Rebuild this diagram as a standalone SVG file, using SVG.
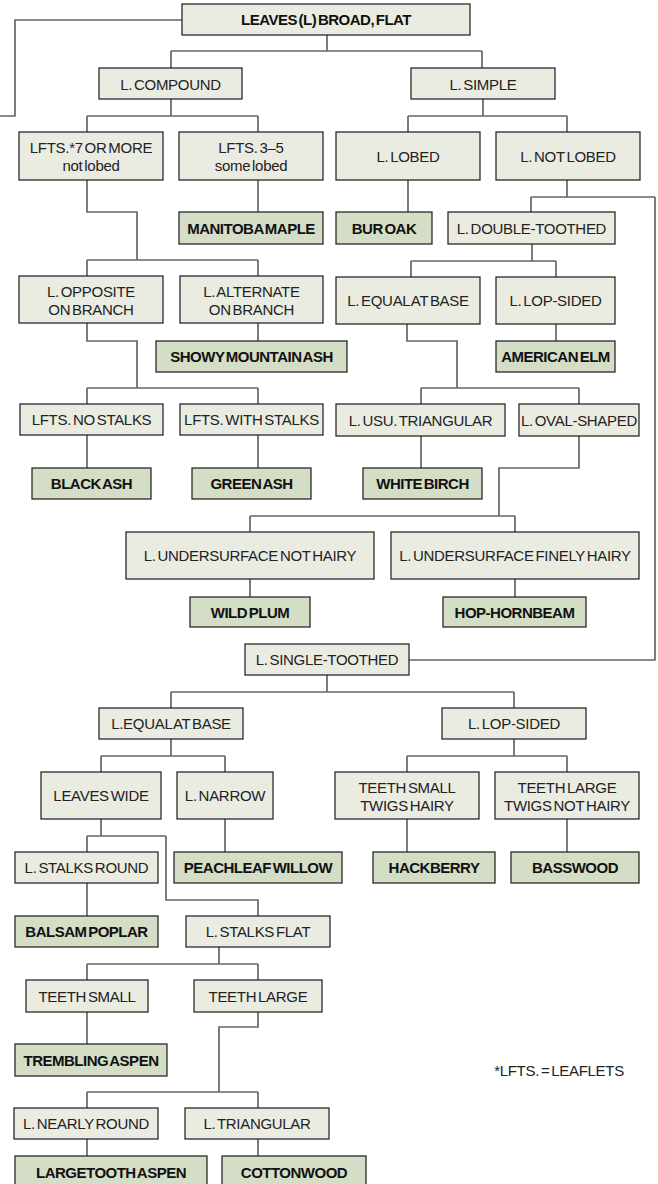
<svg xmlns="http://www.w3.org/2000/svg" width="658" height="1184" viewBox="0 0 658 1184">
<style>
.c{fill:none;stroke:#666;stroke-width:1.7}
.n rect{fill:#eaece2;stroke:#2a2a2a;stroke-width:1.3}
.s rect{fill:#d4ddc6;stroke:#2a2a2a;stroke-width:1.3}
text{font-family:"Liberation Sans",Arial,sans-serif;font-size:15px;fill:#222;text-anchor:middle;letter-spacing:-0.3px;word-spacing:-2px}
.s text,.b{font-weight:700;letter-spacing:-0.5px;fill:#111}
</style>
<rect width="658" height="1184" fill="#fff"/>
<g id="connectors" class="c">
<path d="M182,20H15V116H0"/>
<path d="M327,35V51M171,51H482M171,51V68M482,51V68"/>
<path d="M171,99V116M87,116H258M87,116V132M258,116V132"/>
<path d="M87,180V212H137V260M87,260H258M87,260V276M258,260V276"/>
<path d="M258,180V212"/>
<path d="M483,99V116M408,116H567M408,116V132M567,116V132"/>
<path d="M408,180V212"/>
<path d="M567,180V197M531,197H655M531,197V212M655,197V660H409"/>
<path d="M532,244V261M411,261H556M411,261V277M556,261V277"/>
<path d="M556,324V341"/>
<path d="M407,324V341H457V388M421,388H579M421,388V404M579,388V404"/>
<path d="M87,323V341H137V388M87,388H258M87,388V404M258,388V404"/>
<path d="M258,323V341"/>
<path d="M87,435V468M258,435V468"/>
<path d="M421,436V468"/>
<path d="M579,436V468H499V516M250,516H515M250,516V532M515,516V532"/>
<path d="M250,579V597M515,579V597"/>
<path d="M327,675V692M171,692H514M171,692V708M514,692V708"/>
<path d="M171,739V756M101,756H225M101,756V772M225,756V772"/>
<path d="M514,739V756M407,756H567M407,756V772M567,756V772"/>
<path d="M407,819V852M567,819V852M225,819V852"/>
<path d="M101,819V836M87,836H166M87,836V852M166,836V900H258V916"/>
<path d="M87,883V916"/>
<path d="M219,947V964M87,964H258M87,964V980M258,964V980"/>
<path d="M87,1012V1044"/>
<path d="M258,1012V1027H219V1092M87,1092H258M87,1092V1108M258,1092V1108"/>
<path d="M87,1139V1156M258,1139V1156"/>
</g>
<g id="root" class="n"><rect x="182" y="4" width="288" height="31"/><text class="b" x="326" y="25">LEAVES (L) BROAD, FLAT</text></g>
<g id="compound" class="n"><rect x="99" y="68" width="143" height="31"/><text x="170.5" y="89.5">L. COMPOUND</text></g>
<g id="simple" class="n"><rect x="411" y="68" width="144" height="31"/><text x="483" y="89.5">L. SIMPLE</text></g>
<g id="lfts7" class="n"><rect x="19" y="132" width="144" height="48"/><text x="91" y="153">LFTS.*7 OR MORE</text><text x="91" y="171">not lobed</text></g>
<g id="lfts35" class="n"><rect x="179" y="132" width="144" height="48"/><text x="251" y="153">LFTS. 3–5</text><text x="251" y="171">some lobed</text></g>
<g id="lobed" class="n"><rect x="336" y="132" width="144" height="48"/><text x="408" y="161.5">L. LOBED</text></g>
<g id="notlobed" class="n"><rect x="496" y="132" width="144" height="48"/><text x="568" y="161.5">L. NOT LOBED</text></g>
<g id="manitoba" class="s"><rect x="179" y="212" width="144" height="32"/><text x="251" y="233.5">MANITOBA MAPLE</text></g>
<g id="buroak" class="s"><rect x="336" y="212" width="96" height="32"/><text x="384" y="233.5">BUR OAK</text></g>
<g id="double" class="n"><rect x="448" y="212" width="167" height="32"/><text x="531.5" y="233.5">L. DOUBLE-TOOTHED</text></g>
<g id="opposite" class="n"><rect x="19" y="276" width="144" height="47"/><text x="91" y="297">L. OPPOSITE</text><text x="91" y="315">ON BRANCH</text></g>
<g id="alternate" class="n"><rect x="180" y="276" width="143" height="47"/><text x="251.5" y="297">L. ALTERNATE</text><text x="251.5" y="315">ON BRANCH</text></g>
<g id="showy" class="s"><rect x="156" y="341" width="191" height="31"/><text x="251.5" y="362">SHOWY MOUNTAIN ASH</text></g>
<g id="equal1" class="n"><rect x="336" y="277" width="144" height="47"/><text x="408" y="306">L. EQUAL AT BASE</text></g>
<g id="lopsided1" class="n"><rect x="496" y="277" width="119" height="47"/><text x="555.5" y="306">L. LOP-SIDED</text></g>
<g id="amelm" class="s"><rect x="496" y="341" width="119" height="31"/><text x="555.5" y="362">AMERICAN ELM</text></g>
<g id="nostalks" class="n"><rect x="20" y="404" width="143" height="31"/><text x="91.5" y="425">LFTS. NO STALKS</text></g>
<g id="withstalks" class="n"><rect x="180" y="404" width="143" height="31"/><text x="251.5" y="425">LFTS. WITH STALKS</text></g>
<g id="blackash" class="s"><rect x="32" y="468" width="119" height="31"/><text x="91.5" y="489">BLACK ASH</text></g>
<g id="greenash" class="s"><rect x="192" y="468" width="119" height="31"/><text x="251.5" y="489">GREEN ASH</text></g>
<g id="usutri" class="n"><rect x="336" y="404" width="169" height="32"/><text x="420.5" y="425.5">L. USU. TRIANGULAR</text></g>
<g id="oval" class="n"><rect x="519" y="404" width="120" height="32"/><text x="579" y="425.5">L. OVAL-SHAPED</text></g>
<g id="whitebirch" class="s"><rect x="363" y="468" width="119" height="31"/><text x="422.5" y="489">WHITE BIRCH</text></g>
<g id="undernot" class="n"><rect x="126" y="532" width="248" height="47"/><text x="250" y="561">L. UNDERSURFACE NOT HAIRY</text></g>
<g id="underfine" class="n"><rect x="391" y="532" width="248" height="47"/><text x="515" y="561">L. UNDERSURFACE FINELY HAIRY</text></g>
<g id="wildplum" class="s"><rect x="190" y="597" width="120" height="30"/><text x="250" y="617.5">WILD PLUM</text></g>
<g id="hop" class="s"><rect x="443" y="597" width="143" height="30"/><text x="514.5" y="617.5">HOP-HORNBEAM</text></g>
<g id="single" class="n"><rect x="245" y="644" width="164" height="31"/><text x="327" y="665">L. SINGLE-TOOTHED</text></g>
<g id="equal2" class="n"><rect x="99" y="708" width="144" height="31"/><text x="171" y="729">L.EQUAL AT BASE</text></g>
<g id="lopsided2" class="n"><rect x="442" y="708" width="144" height="31"/><text x="514" y="729">L. LOP-SIDED</text></g>
<g id="leaveswide" class="n"><rect x="41" y="772" width="120" height="47"/><text x="101" y="801">LEAVES WIDE</text></g>
<g id="narrow" class="n"><rect x="177" y="772" width="96" height="47"/><text x="225" y="801">L. NARROW</text></g>
<g id="teethsmalltwigs" class="n"><rect x="335" y="772" width="144" height="47"/><text x="407" y="793">TEETH SMALL</text><text x="407" y="811">TWIGS HAIRY</text></g>
<g id="teethlargetwigs" class="n"><rect x="495" y="772" width="144" height="47"/><text x="567" y="793">TEETH LARGE</text><text x="567" y="811">TWIGS NOT HAIRY</text></g>
<g id="hackberry" class="s"><rect x="373" y="852" width="122" height="31"/><text x="434" y="873">HACKBERRY</text></g>
<g id="basswood" class="s"><rect x="511" y="852" width="128" height="31"/><text x="575" y="873">BASSWOOD</text></g>
<g id="peachleaf" class="s"><rect x="174" y="852" width="168" height="31"/><text x="258" y="873">PEACHLEAF WILLOW</text></g>
<g id="stalksround" class="n"><rect x="15" y="852" width="143" height="31"/><text x="86.5" y="873">L. STALKS ROUND</text></g>
<g id="balsam" class="s"><rect x="15" y="916" width="143" height="31"/><text x="86.5" y="937">BALSAM POPLAR</text></g>
<g id="stalksflat" class="n"><rect x="186" y="916" width="144" height="31"/><text x="258" y="937">L. STALKS FLAT</text></g>
<g id="teethsmall" class="n"><rect x="26" y="980" width="122" height="32"/><text x="87" y="1001.5">TEETH SMALL</text></g>
<g id="teethlarge" class="n"><rect x="194" y="980" width="128" height="32"/><text x="258" y="1001.5">TEETH LARGE</text></g>
<g id="trembling" class="s"><rect x="15" y="1044" width="152" height="32"/><text x="91" y="1065.5">TREMBLING ASPEN</text></g>
<g id="nearlyround" class="n"><rect x="14" y="1108" width="144" height="31"/><text x="86" y="1129">L. NEARLY ROUND</text></g>
<g id="triangular" class="n"><rect x="185" y="1108" width="144" height="31"/><text x="257" y="1129">L. TRIANGULAR</text></g>
<g id="largetooth" class="s"><rect x="15" y="1156" width="192" height="32"/><text x="111" y="1177.5">LARGETOOTH ASPEN</text></g>
<g id="cottonwood" class="s"><rect x="222" y="1156" width="144" height="32"/><text x="294" y="1177.5">COTTONWOOD</text></g>
<text id="footnote" x="559" y="1076">*LFTS. = LEAFLETS</text>
</svg>
